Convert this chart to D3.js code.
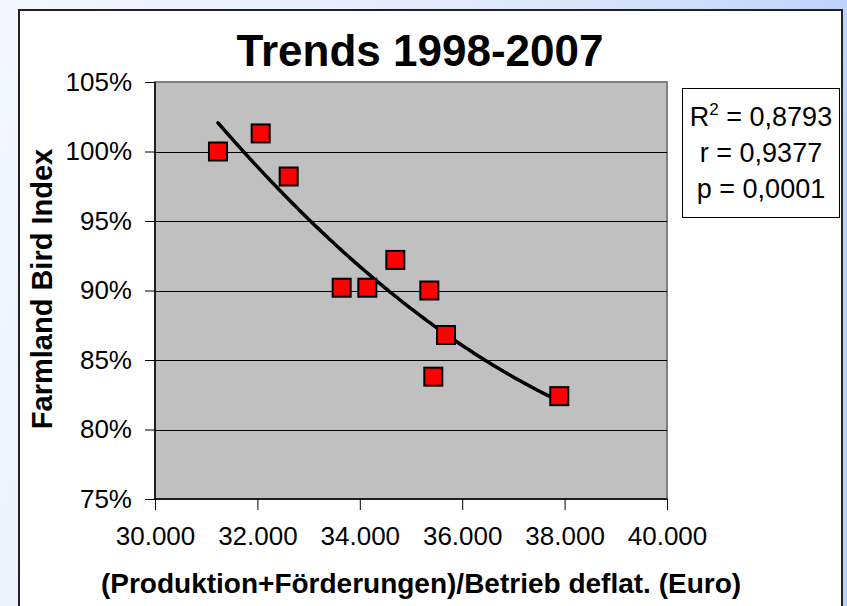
<!DOCTYPE html>
<html>
<head>
<meta charset="utf-8">
<script src="https://cdn.jsdelivr.net/npm/d3@7"></script>
<style>
  html, body { margin: 0; padding: 0; }
  body { width: 847px; height: 606px; overflow: hidden; }
  svg { display: block; font-family: "Liberation Sans", Arial, sans-serif; }
</style>
</head>
<body>
<div id="plot"></div>
<script>
// income per farm (Euro, deflated) and farmland bird index
const income = [31230, 32064, 32611, 33646, 34147, 34694, 35358, 35684, 35436, 37896];
const birdIndex = [1.000, 1.013, 0.982, 0.902, 0.902, 0.922, 0.900, 0.868, 0.838, 0.824];
const xTicks = [30000, 32000, 34000, 36000, 38000, 40000];
const yTicks = [0.75, 0.80, 0.85, 0.90, 0.95, 1.00, 1.05];
const statLines = ['r = 0,9377', 'p = 0,0001'];

function polyFit2(xs, ys) {
  // least squares fit y = a + b*t + c*t^2, t scaled to keep numbers small
  const n = xs.length;
  const t = xs.map(x => (x - 35000) / 1000);
  const s = k => d3.sum(t, v => Math.pow(v, k));
  const sy = k => d3.sum(t, (v, i) => Math.pow(v, k) * ys[i]);
  const m = [[n, s(1), s(2), sy(0)],
             [s(1), s(2), s(3), sy(1)],
             [s(2), s(3), s(4), sy(2)]];
  for (let i = 0; i < 3; i++) {
    for (let j = i + 1; j < 3; j++) {
      const f = m[j][i] / m[i][i];
      for (let k = i; k < 4; k++) m[j][k] -= f * m[i][k];
    }
  }
  const c = [0, 0, 0];
  for (let i = 2; i >= 0; i--) {
    let v = m[i][3];
    for (let k = i + 1; k < 3; k++) v -= m[i][k] * c[k];
    c[i] = v / m[i][i];
  }
  return x => {
    const u = (x - 35000) / 1000;
    return c[0] + c[1] * u + c[2] * u * u;
  };
}

const W = 847, H = 606;
const plot = {left: 155, right: 667, top: 82, bottom: 499};

const svg = d3.select('#plot').append('svg')
  .attr('width', W)
  .attr('height', H);

const defs = svg.append('defs');
const grad = defs.append('linearGradient')
  .attr('id', 'bg')
  .attr('x1', '0%').attr('y1', '0%')
  .attr('x2', '100%').attr('y2', '20%');
grad.append('stop').attr('offset', '0%').attr('stop-color', '#f4f7fe');
grad.append('stop').attr('offset', '60%').attr('stop-color', '#dfe8fb');
grad.append('stop').attr('offset', '100%').attr('stop-color', '#bcd1fa');

svg.append('rect')
  .attr('width', W).attr('height', H)
  .attr('fill', 'url(#bg)');

// chart frame
svg.append('rect')
  .attr('x', 19).attr('y', 10)
  .attr('width', 823).attr('height', 610)
  .attr('fill', '#fff')
  .attr('stroke', '#222')
  .attr('stroke-width', 2);

const x = d3.scaleLinear().domain([30000, 40000]).range([plot.left, plot.right]);
const y = d3.scaleLinear().domain([0.75, 1.05]).range([plot.bottom, plot.top]);

// plot area
svg.append('rect')
  .attr('x', plot.left).attr('y', plot.top)
  .attr('width', plot.right - plot.left)
  .attr('height', plot.bottom - plot.top)
  .attr('fill', '#c0c0c0')
  .attr('stroke', '#808080')
  .attr('stroke-width', 2);

// Grid
svg.append('g')
  .selectAll('line')
  .data(yTicks.slice(1, -1))
  .enter().append('line')
  .attr('x1', plot.left).attr('x2', plot.right)
  .attr('y1', d => Math.round(y(d)) + 0.5)
  .attr('y2', d => Math.round(y(d)) + 0.5)
  .attr('stroke', '#000')
  .attr('stroke-width', 1);

// Axes
const fmtPct = d => Math.round(d * 100) + '%';
const fmtEuro = d => d3.format(',')(d).replace(/,/g, '.');

const yAxis = svg.append('g')
  .attr('transform', `translate(${plot.left},0)`)
  .call(d3.axisLeft(y).tickValues(yTicks).tickFormat(fmtPct).tickSize(10).tickPadding(13));
const xAxis = svg.append('g')
  .attr('transform', `translate(0,${plot.bottom})`)
  .call(d3.axisBottom(x).tickValues(xTicks).tickFormat(fmtEuro).tickSize(11).tickPadding(17));

for (const ax of [xAxis, yAxis]) {
  ax.select('.domain').attr('stroke', '#000').attr('stroke-width', 1.5);
  ax.selectAll('.tick line').attr('stroke', '#000').attr('stroke-width', 1);
  ax.selectAll('.tick text')
    .attr('fill', '#000')
    .style('font-family', '"Liberation Sans", Arial, sans-serif')
    .style('font-size', '26px');
}
xAxis.select('.domain').attr('d', `M${plot.left},0H${plot.right}`);
yAxis.select('.domain').attr('d', `M0,${plot.top}V${plot.bottom}`);

// Trend line
const fit = polyFit2(income, birdIndex);
const xs = d3.range(d3.min(income), d3.max(income) + 1, 50);
svg.append('path')
  .datum(xs)
  .attr('fill', 'none')
  .attr('stroke', '#000')
  .attr('stroke-width', 3.5)
  .attr('stroke-linecap', 'round')
  .attr('d', d3.line().x(d => x(d)).y(d => y(fit(d))));

// Points
const sz = 18;
svg.append('g')
  .selectAll('rect')
  .data(income.map((d, i) => [d, birdIndex[i]]))
  .enter().append('rect')
  .attr('x', d => x(d[0]) - sz / 2)
  .attr('y', d => y(d[1]) - sz / 2)
  .attr('width', sz).attr('height', sz)
  .attr('fill', '#ff0000')
  .attr('stroke', '#000')
  .attr('stroke-width', 2);

// Title
svg.append('text')
  .attr('x', 420).attr('y', 66)
  .attr('text-anchor', 'middle')
  .style('font-size', '44px')
  .style('font-weight', 'bold')
  .text('Trends 1998-2007');

// Axis titles
svg.append('text')
  .attr('transform', 'translate(52,289) rotate(-90)')
  .attr('text-anchor', 'middle')
  .style('font-size', '29px')
  .style('font-weight', 'bold')
  .text('Farmland Bird Index');

svg.append('text')
  .attr('x', 421).attr('y', 593)
  .attr('text-anchor', 'middle')
  .style('font-size', '28px')
  .style('font-weight', 'bold')
  .text('(Produktion+Förderungen)/Betrieb deflat. (Euro)');

// Stats box
const box = svg.append('g');
box.append('rect')
  .attr('x', 682.5).attr('y', 88.5)
  .attr('width', 157).attr('height', 129)
  .attr('fill', '#fff')
  .attr('stroke', '#000')
  .attr('stroke-width', 1);
const r2 = box.append('text')
  .attr('x', 761).attr('y', 126)
  .attr('text-anchor', 'middle')
  .style('font-size', '27px');
r2.append('tspan').text('R');
r2.append('tspan').attr('dy', -11).style('font-size', '17px').text('2');
r2.append('tspan').attr('dy', 11).text(' = 0,8793');
box.selectAll('text.stat')
  .data(statLines)
  .enter().append('text')
  .attr('class', 'stat')
  .attr('x', 761)
  .attr('y', (_, i) => 162 + 36 * i)
  .attr('text-anchor', 'middle')
  .style('font-size', '27px')
  .text(d => d);
</script>
</body>
</html>
